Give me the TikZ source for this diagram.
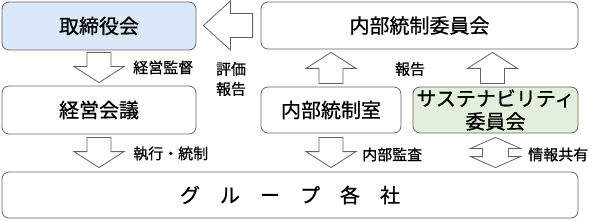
\documentclass[tikz,border=0pt]{standalone}
\usepackage{fontspec}
\setmainfont{Noto Sans CJK JP}[FakeBold=0.8]
\usepackage{tikz}
\usetikzlibrary{calc}
\definecolor{boardblue}{RGB}{218,232,247}
\definecolor{susgreen}{RGB}{226,239,218}
\definecolor{framegray}{RGB}{100,100,100}

% vertical block arrow: shaft end #1, tip #2
\newcommand{\blockv}[2]{%
  \draw[blk] let \p1=#1, \p2=#2, \n1={sign(\y2-\y1)} in
    (\x1-12pt,\y1) -- (\x1-12pt,{\y2-(\n1)*16pt}) -- (\x1-25pt,{\y2-(\n1)*16pt})
    -- (\x1,\y2) -- (\x1+25pt,{\y2-(\n1)*16pt}) -- (\x1+12pt,{\y2-(\n1)*16pt})
    -- (\x1+12pt,\y1) -- cycle;}
% leftward block arrow: shaft end #1, tip #2
\newcommand{\blockleft}[2]{%
  \draw[blk] let \p1=#1, \p2=#2 in
    (\x1,\y1+12pt) -- (\x2+27pt,\y1+12pt) -- (\x2+27pt,\y1+24.5pt) -- (\x2,\y1)
    -- (\x2+27pt,\y1-24.5pt) -- (\x2+27pt,\y1-12pt) -- (\x1,\y1-12pt) -- cycle;}
% up-down block arrow: top tip #1, bottom tip #2
\newcommand{\blockdbl}[2]{%
  \draw[blk] let \p1=#1, \p2=#2 in
    (\x1,\y1) -- (\x1+25pt,\y1-11pt) -- (\x1+13pt,\y1-11pt) -- (\x1+13pt,\y2+11pt)
    -- (\x1+25pt,\y2+11pt) -- (\x1,\y2) -- (\x1-25pt,\y2+11pt) -- (\x1-13pt,\y2+11pt)
    -- (\x1-13pt,\y1-11pt) -- (\x1-25pt,\y1-11pt) -- cycle;}

\begin{document}
\begin{tikzpicture}[x=1pt, y=1pt,
        box/.style={draw=framegray, line width=0.8pt, rounded corners=7pt,
                    inner sep=0pt, align=center,
                    font=\fontsize{20}{23}\selectfont},
        blk/.style={draw=framegray, line width=0.8pt, fill=white},
        lbl/.style={inner sep=0pt, align=center,
                    font=\fontsize{15}{20}\selectfont}
      ]
        \useasboundingbox (0,0) rectangle (592,220);
        % boxes
        \node[box, fill=boardblue, minimum width=194, minimum height=48]
              at (99,194) (board) {取締役会};
        \node[box, minimum width=317, minimum height=47]
              at (419.5,194.5) (cic) {内部統制委員会};
        \node[box, minimum width=194, minimum height=48]
              at (99,110) (mgmt) {経営会議};
        \node[box, minimum width=140, minimum height=46]
              at (331,110) (ico) {内部統制室};
        \node[box, fill=susgreen, minimum width=165, minimum height=46]
              at (495.5,110) (sus) {サステナビリティ\\委員会};
        \node[box, minimum width=576, minimum height=46]
              at (290,25) (group) {グ　ル　ー　プ　各　社};
        % block arrows
        \blockv{($(board.south)+(0,-2)$)}{($(mgmt.north)+(0,3)$)}
        \blockv{($(mgmt.south)+(0,-3)$)}{($(group.north-|mgmt.south)+(0,4)$)}
        \blockv{($(ico.north)+(0,3)$)}{($(cic.south-|ico.north)+(0,-3)$)}
        \blockv{($(sus.north)+(-3,3)$)}{($(cic.south-|sus.north)+(-3,-3)$)}
        \blockv{($(ico.south)+(0,-4)$)}{($(group.north-|ico.south)+(0,4)$)}
        \blockleft{($(cic.west)+(-8,0)$)}{($(board.east)+(7,0)$)}
        \blockdbl{($(sus.south)+(0,-4)$)}{($(group.north-|sus.south)+(0,4)$)}
        % labels
        \node[lbl, anchor=west] at (133,152.5) (lbsup) {経営監督};
        \node[lbl] at (231,141) (lbeval) {評価\\報告};
        \node[lbl] at (410,151) (lbrep) {報告};
        \node[lbl, anchor=west] at (133,66.5) (lbexec) {執行・統制};
        \node[lbl, anchor=west] at (362,65.5) (lbaudit) {内部監査};
        \node[lbl, anchor=west] at (528,65.5) (lbshare) {情報共有};
      \end{tikzpicture}
\end{document}
